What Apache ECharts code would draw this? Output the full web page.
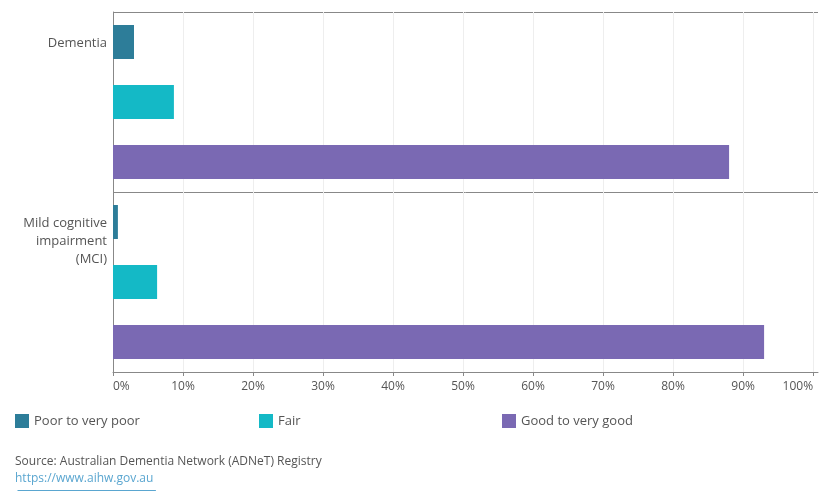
<!DOCTYPE html>
<html>
<head>
<meta charset="utf-8">
<script src="https://cdn.jsdelivr.net/npm/echarts@6/dist/echarts.min.js"></script>
<style>
  html, body { margin: 0; padding: 0; background: #fff; }
  #chart { width: 830px; height: 500px; }
</style>
</head>
<body>
<div id="chart"></div>
<script>
// data (percent of people in each group)
const categories = ['Dementia', 'Mild cognitive\nimpairment\n(MCI)'];
const seriesNames = ['Poor to very poor', 'Fair', 'Good to very good'];
const poorValues = [3.0, 0.7];
const fairValues = [8.7, 6.3];
const goodValues = [88.0, 93.0];
const xTicks = [0, 10, 20, 30, 40, 50, 60, 70, 80, 90, 100];
const sourceText = 'Source: Australian Dementia Network (ADNeT) Registry';
const linkText = 'https://www.aihw.gov.au';

const colors = ['#2d7d99', '#14b9c6', '#7a69b3'];
const legendLefts = [15, 259, 502];
const font = '"Open Sans", sans-serif';
const textColor = '#555';
const linkColor = '#5aa6d0';

// underline width for the link
const linkWidth = new echarts.graphic.Text({
  style: { text: linkText, font: '12px "Open Sans", sans-serif' }
}).getBoundingRect().width;

const myChart = echarts.init(document.getElementById('chart'));

const makeSeries = (name, values, i) => ({
  name: name,
  type: 'bar',
  data: values,
  barWidth: 34,
  barGap: '76.5%',
  itemStyle: { color: colors[i] },
  silent: true
});

// one legend per item so they sit at fixed columns like the original
const legends = seriesNames.map((name, i) => ({
  left: legendLefts[i],
  top: 414,
  padding: 0,
  icon: 'rect',
  itemWidth: 14,
  itemHeight: 14,
  selectedMode: false,
  data: [name],
  textStyle: { color: textColor, fontSize: 13 }
}));

const option = {
  animation: false,
  textStyle: { fontFamily: font },
  grid: { left: 113, top: 12, right: 12, bottom: 128 },
  xAxis: {
    type: 'value',
    min: 0,
    max: 100.7,
    interval: 10,
    axisLine: { show: true, lineStyle: { color: '#888' } },
    axisTick: { show: true, length: 4, lineStyle: { color: '#888' }, customValues: xTicks },
    axisLabel: {
      customValues: xTicks,
      formatter: '{value}%',
      color: textColor,
      fontSize: 12,
      margin: 9,
      alignMinLabel: 'left',
      alignMaxLabel: 'right'
    },
    splitLine: { show: true, lineStyle: { color: '#eeeeee' }, customValues: xTicks }
  },
  yAxis: {
    type: 'category',
    inverse: true,
    data: categories,
    axisLine: { show: true, lineStyle: { color: '#888' } },
    axisTick: { show: false },
    splitLine: { show: true, lineStyle: { color: '#888' } },
    axisLabel: {
      color: textColor,
      fontSize: 13,
      lineHeight: 18,
      margin: 6,
      align: 'right',
      verticalAlign: 'top',
      padding: [-68, 0, 0, 0]
    }
  },
  legend: legends,
  graphic: [
    {
      type: 'text', left: 15, top: 456,
      style: { text: sourceText, fill: textColor, font: '12px "Open Sans", sans-serif' }
    },
    {
      type: 'text', left: 15, top: 473,
      style: { text: linkText, fill: linkColor, font: '12px "Open Sans", sans-serif' }
    },
    {
      type: 'line', left: 15, top: 488,
      shape: { x1: 0, y1: 0, x2: linkWidth, y2: 0 },
      style: { stroke: linkColor, lineWidth: 1 }
    }
  ],
  series: [
    makeSeries(seriesNames[0], poorValues, 0),
    makeSeries(seriesNames[1], fairValues, 1),
    makeSeries(seriesNames[2], goodValues, 2)
  ]
};

myChart.setOption(option);
</script>
</body>
</html>
